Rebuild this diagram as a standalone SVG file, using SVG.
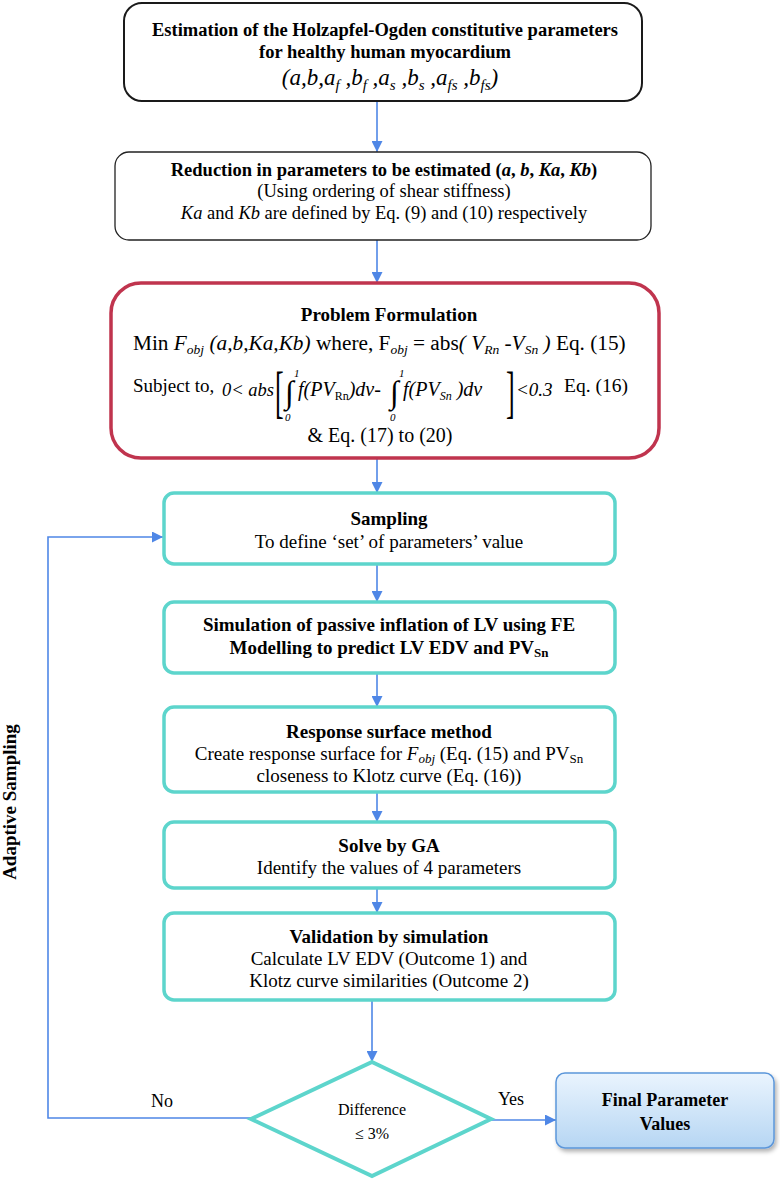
<svg xmlns="http://www.w3.org/2000/svg" width="780" height="1180" viewBox="0 0 780 1180">
<defs>
<marker id="ah" viewBox="0 0 10 10" markerWidth="11" markerHeight="11" refX="10" refY="5" orient="auto" markerUnits="userSpaceOnUse">
<path d="M0,0 L10,5 L0,10 z" fill="#4F87E6"/>
</marker>
<linearGradient id="fg" x1="0" y1="0" x2="0" y2="1">
<stop offset="0" stop-color="#EAF4FE"/>
<stop offset="1" stop-color="#B6D6F3"/>
</linearGradient>
<filter id="sh" x="-10%" y="-10%" width="130%" height="140%">
<feDropShadow dx="2" dy="3" stdDeviation="2" flood-color="#000" flood-opacity="0.3"/>
</filter>
</defs>
<style>
text{font-family:"Liberation Serif","Times New Roman",serif;fill:#000}
.b{font-weight:bold}
.i{font-style:italic}
.m{text-anchor:middle}
.t{fill:#fff;stroke:#5DD5CC;stroke-width:3.5}
.c{stroke:#4F87E6;stroke-width:1.6;fill:none}
.f19{font-size:19px}
.f18{font-size:18.5px}
</style>
<rect width="780" height="1180" fill="#fff"/>

<g id="connectors">
<path class="c" d="M377,101 V152" marker-end="url(#ah)"/>
<path class="c" d="M377,240 V283" marker-end="url(#ah)"/>
<path class="c" d="M377,458 V493" marker-end="url(#ah)"/>
<path class="c" d="M377,564 V602" marker-end="url(#ah)"/>
<path class="c" d="M377,673 V707" marker-end="url(#ah)"/>
<path class="c" d="M377,792 V822" marker-end="url(#ah)"/>
<path class="c" d="M377,888 V913" marker-end="url(#ah)"/>
<path class="c" d="M372,1000 V1062" marker-end="url(#ah)"/>
<path class="c" d="M251,1118 H48 V537 H163" marker-end="url(#ah)"/>
<path class="c" d="M491,1120 H556" marker-end="url(#ah)"/>
<text x="162" y="1107" class="m" font-size="18">No</text>
<text x="511" y="1105" class="m" font-size="18">Yes</text>
<text x="16" y="802" class="m b" font-size="19" transform="rotate(-90 16 802)">Adaptive Sampling</text>
</g>

<g id="n1">
<rect x="124" y="3" width="518" height="98" rx="18" fill="#fff" stroke="#1a1a1a" stroke-width="2"/>
<text x="385" y="36" class="m b f18">Estimation of the Holzapfel-Ogden constitutive parameters</text>
<text x="385" y="58" class="m b f18">for healthy human myocardium</text>
<text x="390" y="85" class="m i" font-size="23">(a,b,a<tspan font-size="15" dy="5">f</tspan><tspan dy="-5"> ,b</tspan><tspan font-size="15" dy="5">f</tspan><tspan dy="-5"> ,a</tspan><tspan font-size="15" dy="5">s</tspan><tspan dy="-5"> ,b</tspan><tspan font-size="15" dy="5">s</tspan><tspan dy="-5"> ,a</tspan><tspan font-size="15" dy="5">fs</tspan><tspan dy="-5"> ,b</tspan><tspan font-size="15" dy="5">fs</tspan><tspan dy="-5">)</tspan></text>
</g>

<g id="n2">
<rect x="115" y="152" width="536" height="88" rx="14" fill="#fff" stroke="#222" stroke-width="1.3"/>
<text x="384" y="176" class="m b f18">Reduction in parameters to be estimated (<tspan class="i">a</tspan>, <tspan class="i">b</tspan>, <tspan class="i">Ka</tspan>, <tspan class="i">Kb</tspan>)</text>
<text x="384" y="197" class="m f18">(Using ordering of shear stiffness)</text>
<text x="384" y="219" class="m f18"><tspan class="i">Ka</tspan> and <tspan class="i">Kb</tspan> are defined by Eq. (9) and (10) respectively</text>
</g>

<g id="n3">
<rect x="111" y="283" width="548" height="175" rx="30" fill="#fff" stroke="#C0344E" stroke-width="3.5"/>
<text x="389" y="321" class="m b f19">Problem Formulation</text>
<text x="133" y="350" font-size="21.3">Min <tspan class="i">F</tspan><tspan class="i" font-size="13.5" dy="4">obj</tspan><tspan class="i" dy="-4"> (a,b,Ka,Kb)</tspan>  where, F<tspan class="i" font-size="13.5" dy="4">obj</tspan><tspan dy="-4"> = abs</tspan><tspan class="i">( V</tspan><tspan class="i" font-size="13.5" dy="4">Rn</tspan><tspan class="i" dy="-4"> -V</tspan><tspan class="i" font-size="13.5" dy="4">Sn</tspan><tspan class="i" dy="-4"> )</tspan> Eq. (15)</text>
<text x="133" y="392" font-size="19">Subject to,</text>
<text x="222" y="396" class="i" font-size="18.5">0&lt; abs</text>
<text x="0" y="411" font-size="58" transform="translate(275,0) scale(0.45,1)">[</text>
<text x="285" y="403" font-size="32">∫</text>
<text x="294" y="377" class="i" font-size="11">1</text>
<text x="285" y="421" class="i" font-size="11">0</text>
<text x="298" y="396" class="i" font-size="20">f(PV<tspan font-size="12" font-style="normal" dy="4">Rn</tspan><tspan dy="-4">)dv-</tspan></text>
<text x="390" y="403" font-size="32">∫</text>
<text x="399" y="377" class="i" font-size="11">1</text>
<text x="390" y="421" class="i" font-size="11">0</text>
<text x="403" y="396" class="i" font-size="20">f(PV<tspan font-size="12" dy="4">Sn</tspan><tspan dy="-4"> )dv</tspan></text>
<text x="0" y="411" font-size="58" transform="translate(506,0) scale(0.45,1)">]</text>
<text x="516" y="396" class="i" font-size="19">&lt;0.3</text>
<text x="628" y="392" font-size="19.5" text-anchor="end">Eq. (16)</text>
<text x="380" y="442" class="m" font-size="20">&amp;  Eq. (17) to (20)</text>
</g>

<g id="n4">
<rect class="t" x="164" y="493" width="451" height="71" rx="10"/>
<text x="389" y="525" class="m b f19">Sampling</text>
<text x="389" y="548" class="m f19">To define ‘set’ of parameters’ value</text>
</g>

<g id="n5">
<rect class="t" x="164" y="602" width="451" height="71" rx="10"/>
<text x="389" y="631" class="m b f19">Simulation of passive inflation of LV using FE</text>
<text x="389" y="654" class="m b f19">Modelling to predict LV EDV and PV<tspan font-size="13" dy="3">Sn</tspan></text>
</g>

<g id="n6">
<rect class="t" x="164" y="707" width="451" height="85" rx="10"/>
<text x="389" y="738" class="m b f19">Response surface method</text>
<text x="389" y="760" class="m f19">Create response surface for <tspan class="i">F</tspan><tspan class="i" font-size="13" dy="3">obj</tspan><tspan dy="-3">  (Eq. (15) and PV</tspan><tspan font-size="13" dy="3">Sn</tspan></text>
<text x="389" y="782" class="m f19">closeness to Klotz curve (Eq. (16))</text>
</g>

<g id="n7">
<rect class="t" x="164" y="822" width="451" height="66" rx="10"/>
<text x="389" y="852" class="m b f19">Solve by GA</text>
<text x="389" y="874" class="m f19">Identify the values of 4 parameters</text>
</g>

<g id="n8">
<rect class="t" x="164" y="913" width="451" height="87" rx="10"/>
<text x="389" y="943" class="m b f19">Validation by simulation</text>
<text x="389" y="965" class="m f19">Calculate LV EDV (Outcome 1) and</text>
<text x="389" y="987" class="m f19">Klotz curve similarities (Outcome 2)</text>
</g>

<g id="n9">
<polygon points="372,1062 491,1119 372,1176 251,1119" fill="#fff" stroke="#5DD5CC" stroke-width="4"/>
<text x="372" y="1115" class="m" font-size="16">Difference</text>
<text x="372" y="1139" class="m" font-size="16">≤ 3%</text>
</g>

<g id="n10">
<rect x="556" y="1073" width="218" height="75" rx="9" fill="url(#fg)" stroke="#5B96DA" stroke-width="1.5" filter="url(#sh)"/>
<text x="665" y="1106" class="m b" font-size="18">Final Parameter</text>
<text x="665" y="1130" class="m b" font-size="18">Values</text>
</g>
</svg>
